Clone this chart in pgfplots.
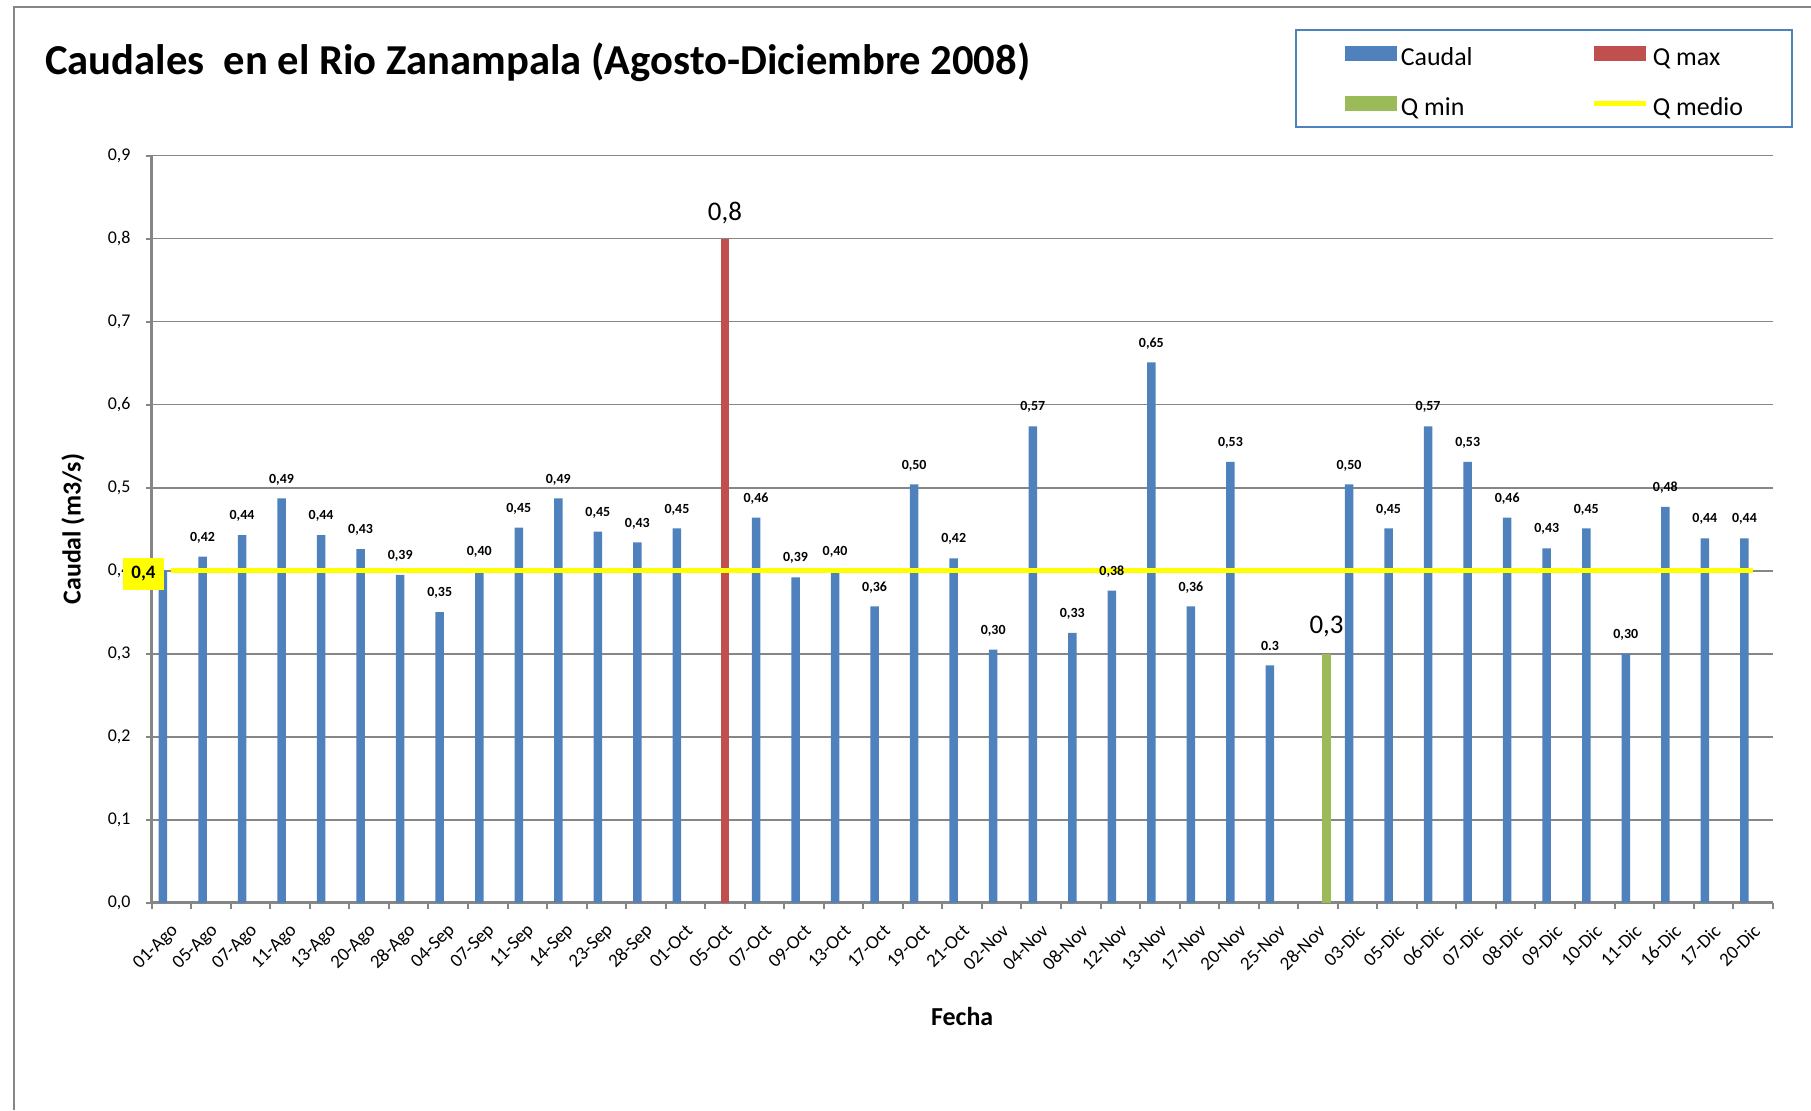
\documentclass[border=0pt]{standalone}
\usepackage{fontspec}
\setmainfont{Carlito}
\usepackage{pgfplots}
\usepackage{pgfplotstable}
\pgfplotsset{compat=1.18}
\definecolor{cblue}{HTML}{4F81BD}
\definecolor{cred}{HTML}{C0504D}
\definecolor{cgreen}{HTML}{9BBB59}
\definecolor{cyellow}{HTML}{FFFF00}
\definecolor{cgrid}{HTML}{868686}
\newcommand\lgs{\rule[-7bp]{0pt}{32bp}}

\pgfplotstableread{
x y lab
0 0.400 {}
1 0.417 0,42
2 0.443 0,44
3 0.487 0,49
4 0.443 0,44
5 0.426 0,43
6 0.395 0,39
7 0.350 0,35
8 0.400 0,40
9 0.452 0,45
10 0.487 0,49
11 0.447 0,45
12 0.434 0,43
13 0.451 0,45
15 0.464 0,46
16 0.392 0,39
17 0.400 0,40
18 0.357 0,36
19 0.504 0,50
20 0.415 0,42
21 0.305 0,30
22 0.574 0,57
23 0.325 0,33
24 0.376 0,38
25 0.651 0,65
26 0.357 0,36
27 0.531 0,53
28 0.286 0.3
30 0.504 0,50
31 0.451 0,45
32 0.574 0,57
33 0.531 0,53
34 0.464 0,46
35 0.427 0,43
36 0.451 0,45
37 0.300 0,30
38 0.477 0,48
39 0.439 0,44
40 0.439 0,44
}\caudal

\pgfplotstableread{
x y lab
14 0.8 0,8
}\qmax

\pgfplotstableread{
x y lab
29 0.3 0,3
}\qmin

\pgfplotstableread{
x y
0 0.4
40 0.4
}\qmedio

\pgfplotstableread{
x y lab
0 0.4 0,4
}\qmediolab

\begin{document}
\begin{tikzpicture}[x=1bp,y=1bp]
\path[use as bounding box] (-151.7,-207.3) rectangle (1659.3,902.7);
\draw[cgrid, line width=2bp] (-137.7,-207.3) -- (-137.7,895.7) -- (1659.3,895.7);
\node[anchor=base west, inner sep=0pt, font=\bfseries\fontsize{42.8}{44}\selectfont] at (-106.7,828.4) {Caudales\ \ en el Rio Zanampala (Agosto-Diciembre 2008)};
\begin{axis}[
  scale only axis, width=1621bp, height=747bp,
  xmin=-0.5, xmax=40.5, ymin=0, ymax=0.9,
  axis x line*=bottom, axis y line*=left,
  axis line style={-, cgrid, line width=2.5bp},
  ymajorgrids, major grid style={cgrid, line width=1.6bp},
  tick align=outside, major tick length=6bp,
  tick style={cgrid, line width=2bp},
  ytick={0,0.1,0.2,0.3,0.4,0.5,0.6,0.7,0.8,0.9},
  yticklabels={{0,0},{0,1},{0,2},{0,3},{0,4},{0,5},{0,6},{0,7},{0,8},{0,9}},
  yticklabel style={font=\fontsize{18}{20}\selectfont, anchor=east, inner sep=0pt, xshift=-15bp},
  xtick={-0.5,0.5,...,40.5},
  xticklabels={},
  extra x ticks={0,1,...,40},
  extra x tick labels={01-Ago,05-Ago,07-Ago,11-Ago,13-Ago,20-Ago,28-Ago,04-Sep,07-Sep,11-Sep,14-Sep,23-Sep,28-Sep,01-Oct,05-Oct,07-Oct,09-Oct,13-Oct,17-Oct,19-Oct,21-Oct,02-Nov,04-Nov,08-Nov,12-Nov,13-Nov,17-Nov,20-Nov,25-Nov,28-Nov,03-Dic,05-Dic,06-Dic,07-Dic,08-Dic,09-Dic,10-Dic,11-Dic,16-Dic,17-Dic,20-Dic},
  extra x tick style={major tick length=0bp, xticklabel style={font=\fontsize{19}{20}\selectfont, xshift=4bp, yshift=-25bp, rotate=45, anchor=east, inner sep=0pt}},
  xlabel={Fecha}, ylabel={Caudal (m3/s)},
  every axis x label/.style={at={(axis description cs:0.5,-0.1517)}, anchor=center, font=\bfseries\fontsize{26}{28}\selectfont},
  every axis y label/.style={at={(axis description cs:-0.04855,0.5)}, rotate=90, anchor=center, font=\bfseries\fontsize{26}{28}\selectfont},
  legend columns=2, legend cell align=left,
  legend style={at={(axis description cs:1.01252,1.1696)}, anchor=north east,
    draw=cblue, line width=2bp, fill=white, inner xsep=49bp, inner ysep=10bp,
    font=\fontsize{26}{28}\selectfont, nodes={inner sep=0pt}, row sep=24bp,
    /tikz/every odd column/.append style={column sep=4bp}},
]
\addplot[ybar, bar width=8.5bp, bar shift=-8.5bp, fill=cblue, draw=none,
  nodes near coords, point meta=explicit symbolic,
  every node near coord/.append style={font=\bfseries\fontsize{14}{15}\selectfont, anchor=center, xshift=-8.5bp, yshift=19bp, text=black},
  legend image code/.code={\fill[cblue] (0bp,-7.5bp) rectangle (52bp,7.5bp);}]
  table[x=x, y=y, meta=lab] {\caudal};
\addlegendentry{\makebox[191bp][l]{\lgs Caudal}}
\addplot[ybar, bar width=8.5bp, bar shift=0bp, fill=cred, draw=none,
  nodes near coords, point meta=explicit symbolic,
  every node near coord/.append style={font=\fontsize{27}{28}\selectfont, anchor=center, yshift=26bp, text=black},
  legend image code/.code={\fill[cred] (0bp,-7.5bp) rectangle (52bp,7.5bp);}]
  table[x=x, y=y, meta=lab] {\qmax};
\addlegendentry{\lgs Q max}
\addplot[ybar, bar width=8.5bp, bar shift=8.5bp, fill=cgreen, draw=none,
  nodes near coords, point meta=explicit symbolic,
  every node near coord/.append style={font=\fontsize{27}{28}\selectfont, anchor=center, xshift=8.5bp, yshift=27bp, text=black},
  legend image code/.code={\fill[cgreen] (0bp,-7.5bp) rectangle (52bp,7.5bp);}]
  table[x=x, y=y, meta=lab] {\qmin};
\addlegendentry{\makebox[191bp][l]{\lgs Q min}}
\addplot[cyellow, line width=5bp, mark=none,
  legend image code/.code={\draw[cyellow, line width=5bp] (0bp,0bp) -- (52bp,0bp);}]
  table[x=x, y=y] {\qmedio};
\addlegendentry{\lgs Q medio}
\addplot[draw=none, mark=none, forget plot,
  nodes near coords, point meta=explicit symbolic,
  every node near coord/.append style={font=\bfseries\fontsize{19}{20}\selectfont, anchor=center, fill=cyellow, text=black, minimum width=41bp, minimum height=32bp, inner sep=0pt, xshift=-28bp, yshift=-3bp}]
  table[x=x, y=y, meta=lab] {\qmediolab};
\end{axis}
\end{tikzpicture}
\end{document}
